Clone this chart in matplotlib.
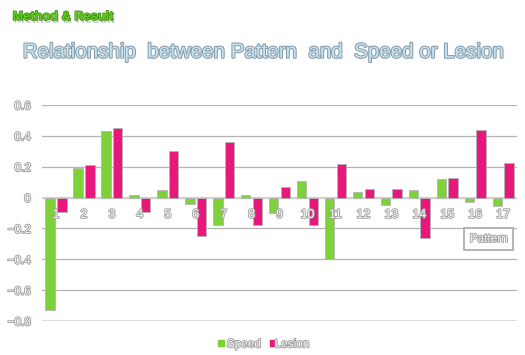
import numpy as np
import matplotlib.pyplot as plt
import matplotlib.patheffects as pe

# data
patterns = [str(i) for i in range(1, 18)]
speed = [-0.73, 0.19, 0.43, 0.015, 0.048, -0.043, -0.18, 0.015, -0.10,
         0.11, -0.395, 0.037, -0.05, 0.05, 0.12, -0.032, -0.056]
lesion = [-0.095, 0.21, 0.45, -0.095, 0.30, -0.25, 0.36, -0.18, 0.067,
          -0.18, 0.22, 0.056, 0.056, -0.26, 0.127, 0.436, 0.225]
y_ticks = [0.6, 0.4, 0.2, 0, -0.2, -0.4, -0.6, -0.8]

plt.rcParams['font.family'] = ['Liberation Sans', 'DejaVu Sans']

green = '#7fd13b'
pink = '#e8177c'
outline = [pe.withStroke(linewidth=1.3, foreground='#a0a0a0')]

fig = plt.figure(figsize=(5.25, 3.55), dpi=100)
ax = fig.add_axes([0.08, 0.0958, 0.905, 0.6085])

x = np.arange(len(patterns))
w = 0.34
ax.bar(x - 0.21, speed, w, color=green, edgecolor='#b5b5b5', linewidth=0.6, zorder=3)
ax.bar(x + 0.21, lesion, w, color=pink, edgecolor='#b5b5b5', linewidth=0.6, zorder=3)

ax.set_xlim(-0.5, len(patterns) - 0.5)
ax.set_ylim(-0.8, 0.6)
for v in y_ticks:
    if v == -0.8:
        ax.axhline(v, color='#d9d9d9', linewidth=2, zorder=1)
    else:
        ax.axhline(v, color='#b3b3b3', linewidth=0.9, zorder=1)
ax.axhline(0, color='#d0d0d0', linewidth=1.5, zorder=2)

for s in ax.spines.values():
    s.set_visible(False)
ax.set_xticks([])
ax.set_yticks(y_ticks)
ax.set_yticklabels(['0.6', '0.4', '0.2', '0', '\u22120.2', '\u22120.4', '\u22120.6', '\u22120.8'])
ax.tick_params(axis='y', length=0, pad=8, labelsize=8.5, labelcolor='#f6f6f6')
for t in ax.get_yticklabels():
    t.set_path_effects(outline)

# category labels sit inside the plot just under zero
for i, p in enumerate(patterns):
    ax.text(i, -0.112, p, ha='center', va='center', fontsize=9,
            color='#f6f6f6', path_effects=outline, zorder=5)

ax.text(0.98, 0.38, 'Pattern', transform=ax.transAxes, ha='right', va='center',
        fontsize=8.5, color='#f6f6f6', path_effects=outline, zorder=5,
        bbox=dict(boxstyle='square,pad=0.45', fc='white', ec='#a8a8a8', lw=1.2))

fig.text(0.5, 0.853, 'Relationship  between Pattern  and  Speed or Lesion',
         ha='center', va='center', fontsize=14.8, color='#bfe6f8',
         path_effects=[pe.withStroke(linewidth=1.5, foreground='#8c9aa6')])

fig.text(0.024, 0.952, 'Method & Result', ha='left', va='center', fontsize=9.2,
         fontweight='bold', color='#66cc22',
         path_effects=[pe.withSimplePatchShadow(offset=(1, -2), shadow_rgbFace='#888888', alpha=0.5),
                       pe.withStroke(linewidth=1.0, foreground='#3a8a10')])

# legend
fig.patches.append(plt.Rectangle((0.416, 0.026), 0.011, 0.016, color=green,
                                 transform=fig.transFigure, figure=fig))
fig.text(0.432, 0.03, 'Speed', ha='left', va='center', fontsize=8.5,
         color='#f6f6f6', path_effects=outline)
fig.patches.append(plt.Rectangle((0.514, 0.026), 0.011, 0.016, color=pink,
                                 transform=fig.transFigure, figure=fig))
fig.text(0.523, 0.03, 'Lesion', ha='left', va='center', fontsize=8.5,
         color='#f6f6f6', path_effects=outline)

fig.savefig('out.png', dpi=100)
